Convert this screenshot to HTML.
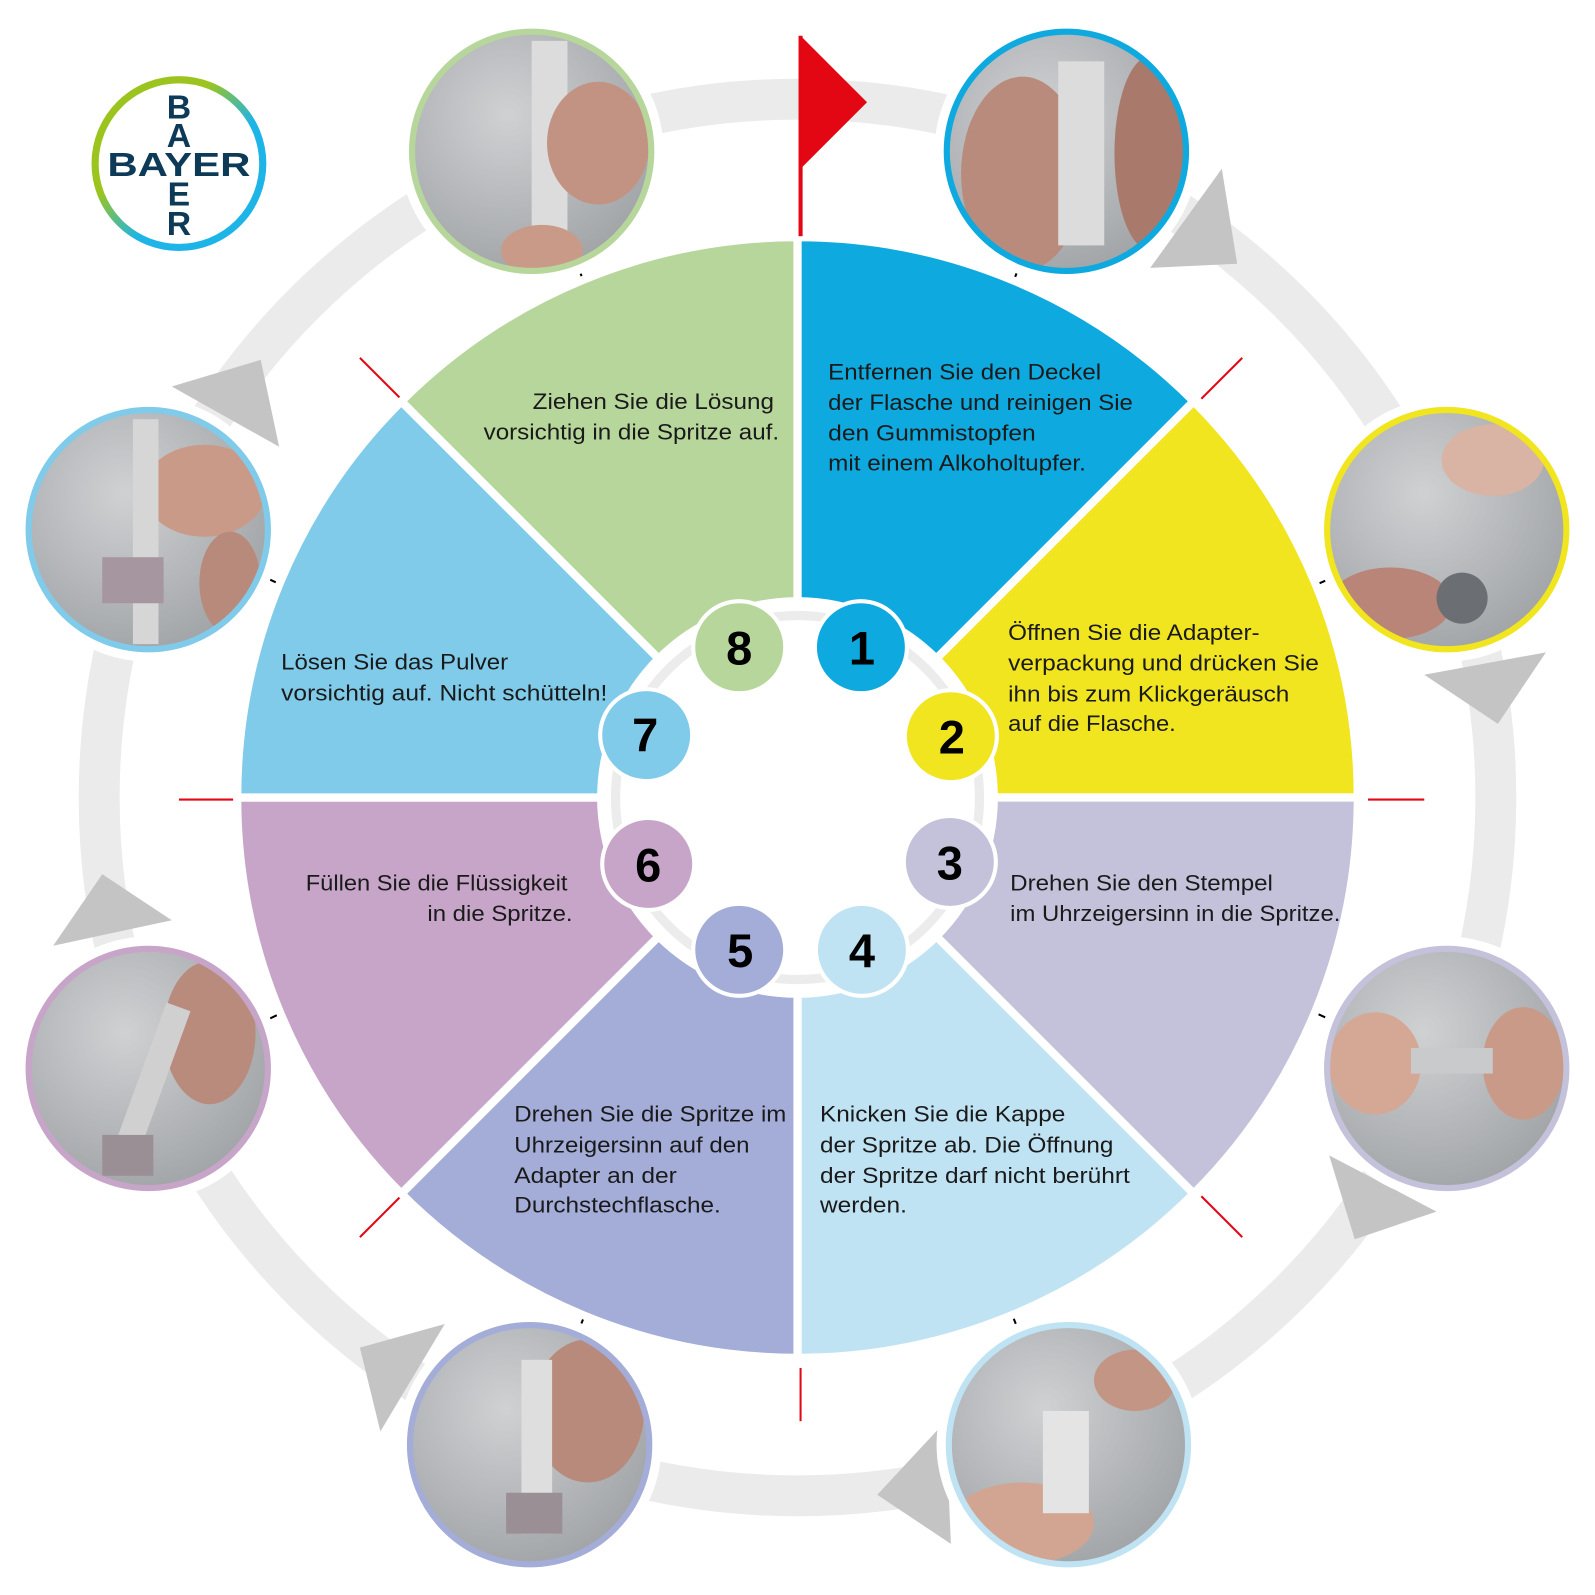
<!DOCTYPE html>
<html><head><meta charset="utf-8"><style>
html,body{margin:0;padding:0;background:#fff;}
svg{display:block;}
.t{font-family:"Liberation Sans",sans-serif;font-size:22px;fill:#1a1a1a;}
.n{font-family:"Liberation Sans",sans-serif;font-size:46px;font-weight:bold;fill:#000;text-anchor:middle;}
.b{font-family:"Liberation Sans",sans-serif;font-size:33px;font-weight:bold;fill:#0d3a57;text-anchor:middle;}
</style></head><body>
<svg width="1595" height="1595" viewBox="0 0 1560 1560" xmlns="http://www.w3.org/2000/svg">
<defs>
<radialGradient id="ph" cx="0.4" cy="0.35" r="0.8"><stop offset="0" stop-color="#cfd1d3"/><stop offset="1" stop-color="#9a9da0"/></radialGradient>
<linearGradient id="lg" x1="0" y1="0" x2="1" y2="1"><stop offset="0.35" stop-color="#9cc41e"/><stop offset="0.6" stop-color="#1db4e8"/></linearGradient>
<clipPath id="c1"><circle cx="1043" cy="148" r="117"/></clipPath>
<clipPath id="c2"><circle cx="1415" cy="518" r="117"/></clipPath>
<clipPath id="c3"><circle cx="1415" cy="1045" r="117"/></clipPath>
<clipPath id="c4"><circle cx="1045" cy="1413" r="117"/></clipPath>
<clipPath id="c5"><circle cx="518" cy="1413" r="117"/></clipPath>
<clipPath id="c6"><circle cx="145" cy="1045" r="117"/></clipPath>
<clipPath id="c7"><circle cx="145" cy="518" r="117"/></clipPath>
<clipPath id="c8"><circle cx="520" cy="148" r="117"/></clipPath>
</defs>
<rect width="1560" height="1560" fill="#fff"/>
<circle cx="780" cy="780" r="683" fill="none" stroke="#ebebeb" stroke-width="40"/>
<g fill="#c4c4c4">
<polygon points="1195,165 1125,262 1210,258"/>
<polygon points="1393,660 1512,638 1465,708"/>
<polygon points="1300,1130 1405,1185 1325,1212"/>
<polygon points="925,1390 858,1462 930,1510"/>
<polygon points="435,1295 352,1318 372,1400"/>
<polygon points="100,855 168,900 52,925"/>
<polygon points="168,378 255,352 273,437"/>
</g>
<g stroke="#e30613" stroke-width="2">
<line x1="1175" y1="390" x2="1215" y2="350"/>
<line x1="1175" y1="1170" x2="1215" y2="1210"/>
<line x1="392" y1="1170" x2="352" y2="1210"/>
<line x1="392" y1="390" x2="352" y2="350"/>
<line x1="1338" y1="782" x2="1393" y2="782"/>
<line x1="175" y1="782" x2="230" y2="782"/>
<line x1="783" y1="1338" x2="783" y2="1390"/>
</g>
<g stroke="#000" stroke-width="2">
<line x1="990" y1="278" x2="998" y2="258"/>
<line x1="1285" y1="573" x2="1305" y2="564"/>
<line x1="1285" y1="990" x2="1305" y2="999"/>
<line x1="990" y1="1286" x2="998" y2="1306"/>
<line x1="572" y1="1286" x2="564" y2="1306"/>
<line x1="277" y1="990" x2="258" y2="999"/>
<line x1="277" y1="573" x2="258" y2="564"/>
<line x1="572" y1="278" x2="564" y2="258"/>
</g>
<g stroke="#fff" stroke-width="8" stroke-linejoin="round">
<path d="M780,780 L780,232 A548,548 0 0 1 1167.5,392.5 Z" fill="#0ea9df"/>
<path d="M780,780 L1167.5,392.5 A548,548 0 0 1 1328,780 Z" fill="#f0e51f"/>
<path d="M780,780 L1328,780 A548,548 0 0 1 1167.5,1167.5 Z" fill="#c4c1da"/>
<path d="M780,780 L1167.5,1167.5 A548,548 0 0 1 780,1328 Z" fill="#c0e3f3"/>
<path d="M780,780 L780,1328 A548,548 0 0 1 392.5,1167.5 Z" fill="#a4acd8"/>
<path d="M780,780 L392.5,1167.5 A548,548 0 0 1 232,780 Z" fill="#c7a5c8"/>
<path d="M780,780 L232,780 A548,548 0 0 1 392.5,392.5 Z" fill="#80cbea"/>
<path d="M780,780 L392.5,392.5 A548,548 0 0 1 780,232 Z" fill="#b7d69b"/>
</g>
<circle cx="780" cy="780" r="196" fill="#fff"/>
<circle cx="780" cy="780" r="178" fill="none" stroke="#ececec" stroke-width="9"/>
<g stroke="#fff" stroke-width="4">
<circle cx="842" cy="633" r="45" fill="#0ea9df"/>
<circle cx="930" cy="720" r="45" fill="#f0e51f"/>
<circle cx="929" cy="843" r="45" fill="#c4c1da"/>
<circle cx="843" cy="929" r="45" fill="#c0e3f3"/>
<circle cx="723" cy="929" r="45" fill="#a4acd8"/>
<circle cx="634" cy="845" r="45" fill="#c7a5c8"/>
<circle cx="632" cy="719" r="45" fill="#80cbea"/>
<circle cx="723" cy="633" r="45" fill="#b7d69b"/>
</g>
<text class="n" x="843" y="650">1</text>
<text class="n" x="931" y="737">2</text>
<text class="n" x="929" y="860">3</text>
<text class="n" x="843" y="946">4</text>
<text class="n" x="724" y="946">5</text>
<text class="n" x="634" y="862">6</text>
<text class="n" x="631" y="735">7</text>
<text class="n" x="723" y="650">8</text>
<!-- photos -->
<g>
<circle cx="1043" cy="148" r="129" fill="#fff"/>
<g clip-path="url(#c1)"><circle cx="1043" cy="148" r="117" fill="url(#ph)"/><ellipse cx="1000" cy="170" rx="60" ry="95" fill="#b98b7c"/><rect x="1035" y="60" width="45" height="180" fill="#dcdcdc"/><ellipse cx="1125" cy="150" rx="35" ry="95" fill="#a97a6c"/></g>
<circle cx="1043" cy="148" r="117" fill="none" stroke="#0ea9df" stroke-width="6"/>
</g>
<g>
<circle cx="1415" cy="518" r="129" fill="#fff"/>
<g clip-path="url(#c2)"><circle cx="1415" cy="518" r="117" fill="url(#ph)"/><ellipse cx="1460" cy="450" rx="50" ry="35" fill="#d9b3a3"/><ellipse cx="1360" cy="590" rx="60" ry="35" fill="#b88578"/><circle cx="1430" cy="585" r="25" fill="#6b6e72"/></g>
<circle cx="1415" cy="518" r="117" fill="none" stroke="#f0e51f" stroke-width="6"/>
</g>
<g>
<circle cx="1415" cy="1045" r="129" fill="#fff"/>
<g clip-path="url(#c3)"><circle cx="1415" cy="1045" r="117" fill="url(#ph)"/><ellipse cx="1345" cy="1040" rx="45" ry="50" fill="#d4a895"/><ellipse cx="1490" cy="1040" rx="40" ry="55" fill="#c99a88"/><rect x="1380" y="1025" width="80" height="25" fill="#c8cacc"/></g>
<circle cx="1415" cy="1045" r="117" fill="none" stroke="#c4c1da" stroke-width="6"/>
</g>
<g>
<circle cx="1045" cy="1413" r="129" fill="#fff"/>
<g clip-path="url(#c4)"><circle cx="1045" cy="1413" r="117" fill="url(#ph)"/><ellipse cx="1000" cy="1490" rx="70" ry="40" fill="#d2a593"/><rect x="1020" y="1380" width="45" height="100" fill="#e4e4e4"/><ellipse cx="1110" cy="1350" rx="40" ry="30" fill="#c39585"/></g>
<circle cx="1045" cy="1413" r="117" fill="none" stroke="#c0e3f3" stroke-width="6"/>
</g>
<g>
<circle cx="518" cy="1413" r="129" fill="#fff"/>
<g clip-path="url(#c5)"><circle cx="518" cy="1413" r="117" fill="url(#ph)"/><ellipse cx="575" cy="1380" rx="55" ry="70" fill="#b88a7b"/><rect x="510" y="1330" width="30" height="170" fill="#dedede"/><rect x="495" y="1460" width="55" height="40" fill="#9b8f96"/></g>
<circle cx="518" cy="1413" r="117" fill="none" stroke="#a4acd8" stroke-width="6"/>
</g>
<g>
<circle cx="145" cy="1045" r="129" fill="#fff"/>
<g clip-path="url(#c6)"><circle cx="145" cy="1045" r="117" fill="url(#ph)"/><ellipse cx="205" cy="1010" rx="45" ry="70" fill="#b98b7c"/><rect x="140" y="980" width="25" height="140" fill="#d0d0d0" transform="rotate(20 150 1045)"/><rect x="100" y="1110" width="50" height="40" fill="#9b8f96"/></g>
<circle cx="145" cy="1045" r="117" fill="none" stroke="#c7a5c8" stroke-width="6"/>
</g>
<g>
<circle cx="145" cy="518" r="129" fill="#fff"/>
<g clip-path="url(#c7)"><circle cx="145" cy="518" r="117" fill="url(#ph)"/><ellipse cx="200" cy="480" rx="60" ry="45" fill="#c99a88"/><ellipse cx="225" cy="570" rx="30" ry="50" fill="#b88a7b"/><rect x="130" y="410" width="25" height="220" fill="#d6d6d6"/><rect x="100" y="545" width="60" height="45" fill="#a596a0"/></g>
<circle cx="145" cy="518" r="117" fill="none" stroke="#80cbea" stroke-width="6"/>
</g>
<g>
<circle cx="520" cy="148" r="129" fill="#fff"/>
<g clip-path="url(#c8)"><circle cx="520" cy="148" r="117" fill="url(#ph)"/><rect x="520" y="40" width="35" height="200" fill="#dcdcdc"/><ellipse cx="585" cy="140" rx="50" ry="60" fill="#c29383"/><ellipse cx="530" cy="245" rx="40" ry="25" fill="#c99a88"/></g>
<circle cx="520" cy="148" r="117" fill="none" stroke="#b7d69b" stroke-width="6"/>
</g>
<rect x="781" y="35" width="4" height="196" fill="#e30613"/>
<polygon points="783,35 848,100 783,165" fill="#e30613"/>
<circle cx="175" cy="160" r="82" fill="#fff" stroke="url(#lg)" stroke-width="7"/>
<text class="b" x="175" y="172" textLength="140" lengthAdjust="spacingAndGlyphs">BAYER</text>
<text class="b" x="175" y="116">B</text>
<text class="b" x="175" y="144">A</text>
<text class="b" x="175" y="201">E</text>
<text class="b" x="175" y="230">R</text>
<g class="t">
<text x="810" y="371" textLength="267" lengthAdjust="spacingAndGlyphs">Entfernen Sie den Deckel</text>
<text x="810" y="401" textLength="298" lengthAdjust="spacingAndGlyphs">der Flasche und reinigen Sie</text>
<text x="810" y="431" textLength="203" lengthAdjust="spacingAndGlyphs">den Gummistopfen</text>
<text x="810" y="460" textLength="252" lengthAdjust="spacingAndGlyphs">mit einem Alkoholtupfer.</text>
<text x="521" y="400" textLength="236" lengthAdjust="spacingAndGlyphs">Ziehen Sie die Lösung</text>
<text x="473" y="430" textLength="289" lengthAdjust="spacingAndGlyphs">vorsichtig in die Spritze auf.</text>
<text x="986" y="626" textLength="246" lengthAdjust="spacingAndGlyphs">Öffnen Sie die Adapter-</text>
<text x="986" y="656" textLength="304" lengthAdjust="spacingAndGlyphs">verpackung und drücken Sie</text>
<text x="986" y="686" textLength="275" lengthAdjust="spacingAndGlyphs">ihn bis zum Klickgeräusch</text>
<text x="986" y="715" textLength="164" lengthAdjust="spacingAndGlyphs">auf die Flasche.</text>
<text x="988" y="871" textLength="257" lengthAdjust="spacingAndGlyphs">Drehen Sie den Stempel</text>
<text x="988" y="901" textLength="323" lengthAdjust="spacingAndGlyphs">im Uhrzeigersinn in die Spritze.</text>
<text x="802" y="1097" textLength="240" lengthAdjust="spacingAndGlyphs">Knicken Sie die Kappe</text>
<text x="802" y="1127" textLength="287" lengthAdjust="spacingAndGlyphs">der Spritze ab. Die Öffnung</text>
<text x="802" y="1157" textLength="303" lengthAdjust="spacingAndGlyphs">der Spritze darf nicht berührt</text>
<text x="802" y="1186" textLength="85" lengthAdjust="spacingAndGlyphs">werden.</text>
<text x="503" y="1097" textLength="266" lengthAdjust="spacingAndGlyphs">Drehen Sie die Spritze im</text>
<text x="503" y="1127" textLength="230" lengthAdjust="spacingAndGlyphs">Uhrzeigersinn auf den</text>
<text x="503" y="1157" textLength="159" lengthAdjust="spacingAndGlyphs">Adapter an der</text>
<text x="503" y="1186" textLength="202" lengthAdjust="spacingAndGlyphs">Durchstechflasche.</text>
<text x="299" y="871" textLength="256" lengthAdjust="spacingAndGlyphs">Füllen Sie die Flüssigkeit</text>
<text x="418" y="901" textLength="142" lengthAdjust="spacingAndGlyphs">in die Spritze.</text>
<text x="275" y="655" textLength="222" lengthAdjust="spacingAndGlyphs">Lösen Sie das Pulver</text>
<text x="275" y="685" textLength="319" lengthAdjust="spacingAndGlyphs">vorsichtig auf. Nicht schütteln!</text>
</g>
</svg>
</body></html>
